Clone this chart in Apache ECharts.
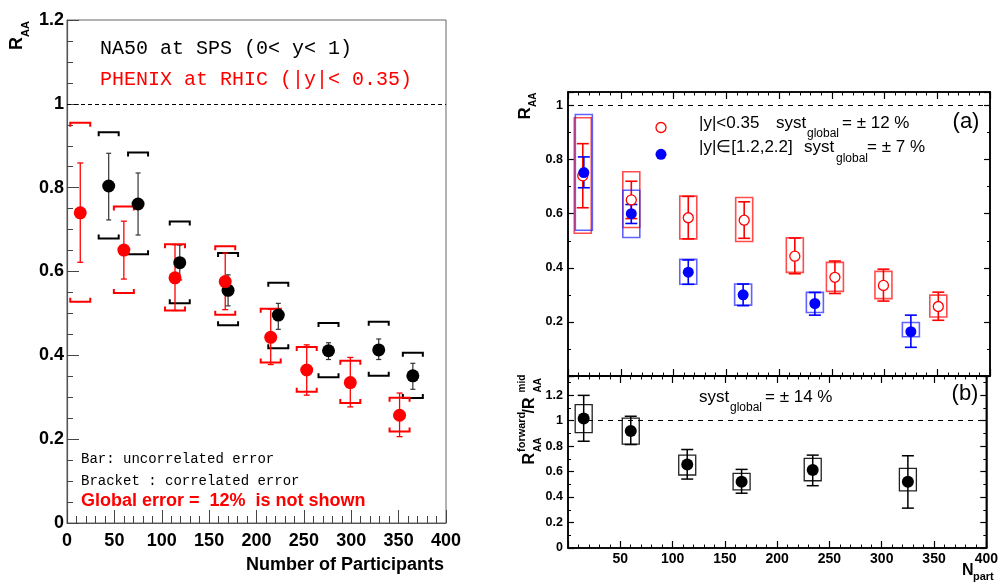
<!DOCTYPE html>
<html>
<head>
<meta charset="utf-8">
<script src="https://cdn.jsdelivr.net/npm/echarts@6/dist/echarts.min.js"></script>
<style>
html,body{margin:0;padding:0;background:#fff;}
#chart{width:1001px;height:582px;}
</style>
</head>
<body>
<div id="chart"></div>
<script>
// ---------- DATA ----------
// PHENIX mid-rapidity (|y|<0.35) — left panel and panel (a) open circles
const midNpart  = [14, 60, 114, 167, 215, 253, 299, 351];
const midRaa    = [0.740, 0.651, 0.585, 0.576, 0.443, 0.365, 0.335, 0.257];
const midStatLo = [0.622, 0.582, 0.507, 0.509, 0.378, 0.305, 0.277, 0.206];
const midStatHi = [0.859, 0.720, 0.664, 0.644, 0.510, 0.425, 0.395, 0.310];
const midSystLo = [0.528, 0.549, 0.507, 0.497, 0.383, 0.313, 0.286, 0.218];
const midSystHi = [0.955, 0.755, 0.665, 0.660, 0.511, 0.420, 0.387, 0.299];

// NA50 at SPS (0<y<1) — left panel black
const na50Npart  = [44, 75, 119, 170, 223, 276, 329, 365];
const na50Raa    = [0.804, 0.761, 0.621, 0.555, 0.496, 0.411, 0.413, 0.351];
const na50StatLo = [0.723, 0.687, 0.580, 0.518, 0.462, 0.390, 0.390, 0.319];
const na50StatHi = [0.882, 0.835, 0.663, 0.592, 0.524, 0.430, 0.439, 0.381];
const na50SystLo = [0.679, 0.641, 0.524, 0.472, 0.417, 0.348, 0.351, 0.298];
const na50SystHi = [0.932, 0.884, 0.719, 0.644, 0.573, 0.477, 0.480, 0.406];

// PHENIX forward (|y| in [1.2,2.2]) — panel (a) blue
const fwdNpart  = [15, 60, 114, 166, 234, 325];
const fwdRaa    = [0.752, 0.600, 0.384, 0.300, 0.268, 0.164];
const fwdStatLo = [0.696, 0.564, 0.339, 0.260, 0.225, 0.106];
const fwdStatHi = [0.810, 0.634, 0.429, 0.340, 0.309, 0.225];
const fwdSystLo = [0.539, 0.512, 0.339, 0.262, 0.235, 0.145];
const fwdSystHi = [0.967, 0.687, 0.431, 0.340, 0.309, 0.198];

// Ratio forward/mid — panel (b)
const ratNpart  = [15, 60, 114, 166, 234, 325];
const ratVal    = [1.016, 0.919, 0.656, 0.520, 0.612, 0.520];
const ratStatLo = [0.838, 0.812, 0.541, 0.430, 0.489, 0.313];
const ratStatHi = [1.198, 1.034, 0.773, 0.617, 0.729, 0.724];
const ratSystLo = [0.906, 0.815, 0.573, 0.456, 0.528, 0.448];
const ratSystHi = [1.125, 1.020, 0.729, 0.586, 0.703, 0.625];

// Axis ticks
const xTicks = {min: 0, max: 400, interval: 50};
const leftY  = {min: 0, max: 1.2, interval: 0.2};
const aY     = {min: 0, max: 1.05, interval: 0.2};
const bY     = {min: 0, max: 1.35, interval: 0.2};

// ---------- HELPERS ----------
function rows(xs, v, sl, sh, yl, yh) {
  return xs.map((x, i) => [x, v[i], sl[i], sh[i], yl[i], yh[i]]);
}
function pts(xs, v) { return xs.map((x, i) => [x, v[i]]); }

function errRender(opt) {
  return function (params, api) {
    const x = api.value(0);
    const cx = api.coord([x, api.value(1)])[0];
    const sLo = api.coord([x, api.value(2)])[1];
    const sHi = api.coord([x, api.value(3)])[1];
    const yLo = api.coord([x, api.value(4)])[1];
    const yHi = api.coord([x, api.value(5)])[1];
    const ch = [];
    const bs = {stroke: opt.boxColor, lineWidth: opt.boxW, fill: null, opacity: opt.boxOpacity || 1};
    if (opt.mode === 'bracket') {
      const w = opt.halfW, e = opt.endLen;
      ch.push({type: 'polyline', shape: {points: [[cx - w, yHi + e], [cx - w, yHi], [cx + w, yHi], [cx + w, yHi + e]]}, style: bs});
      ch.push({type: 'polyline', shape: {points: [[cx - w, yLo - e], [cx - w, yLo], [cx + w, yLo], [cx + w, yLo - e]]}, style: bs});
    } else {
      ch.push({type: 'rect', shape: {x: cx - opt.halfW, y: yHi, width: 2 * opt.halfW, height: yLo - yHi}, style: bs});
    }
    const ls = {stroke: opt.barColor, lineWidth: opt.barW};
    ch.push({type: 'line', shape: {x1: cx, y1: sLo, x2: cx, y2: sHi}, style: ls});
    ch.push({type: 'line', shape: {x1: cx - opt.capW, y1: sLo, x2: cx + opt.capW, y2: sLo}, style: ls});
    ch.push({type: 'line', shape: {x1: cx - opt.capW, y1: sHi, x2: cx + opt.capW, y2: sHi}, style: ls});
    return {type: 'group', children: ch};
  };
}

const SANS = '"Liberation Sans", Arial, Helvetica, sans-serif';
const MONO = '"Liberation Mono", "DejaVu Sans Mono", monospace';

function fmt1(v) { return String(+v.toFixed(2)); }

function dashLine(dash) {
  return {silent: true, symbol: ['none', 'none'], animation: false,
    label: {show: false}, lineStyle: {color: '#000', type: dash, width: 1},
    emphasis: {disabled: true}, data: [{yAxis: 1}]};
}

function rtX(gi, pos, labels, labelFmt) {
  return {
    gridIndex: gi, type: 'value', position: pos, min: xTicks.min, max: xTicks.max, interval: xTicks.interval,
    axisLine: {show: true, onZero: false, lineStyle: {color: '#000', width: 1.5}},
    axisTick: {show: true, inside: true, length: 7, lineStyle: {color: '#000', width: 1.2}},
    minorTick: {show: true, splitNumber: 5, length: 3.5, lineStyle: {color: '#000', width: 1}},
    splitLine: {show: false},
    axisLabel: labels ? {show: true, color: '#000', fontFamily: SANS, fontWeight: 'bold', fontSize: 14, margin: 4, formatter: labelFmt} : {show: false}
  };
}
function rtY(gi, pos, rng, labels, labelFmt) {
  return {
    gridIndex: gi, type: 'value', position: pos, min: rng.min, max: rng.max, interval: rng.interval,
    axisLine: {show: true, onZero: false, lineStyle: {color: '#000', width: 1.5}},
    axisTick: {show: true, inside: true, length: 6, lineStyle: {color: '#000', width: 1.2}},
    minorTick: {show: true, splitNumber: 2, length: 3, lineStyle: {color: '#000', width: 1}},
    splitLine: {show: false},
    axisLabel: labels ? {show: true, color: '#000', fontFamily: SANS, fontWeight: 'bold', fontSize: 12.5, margin: 5, formatter: labelFmt} : {show: false}
  };
}

function txt(x, y, text, size, opt) {
  opt = opt || {};
  return {
    type: 'text', x: x, y: y, silent: true,
    style: {
      text: text, fill: opt.color || '#000',
      font: (opt.weight || 'normal') + ' ' + size + 'px ' + (opt.family || SANS),
      align: opt.align || 'left', textAlign: opt.align || 'left',
      verticalAlign: 'middle', textVerticalAlign: 'middle'
    }
  };
}

// ---------- CHART ----------
const chart = echarts.init(document.getElementById('chart'), null, {renderer: 'canvas'});

const option = {
  animation: false,
  backgroundColor: '#fff',
  grid: [
    {left: 67, top: 20, width: 379, height: 503, show: true, borderColor: '#666', borderWidth: 1},
    {left: 568, top: 92, width: 422, height: 284, show: true, borderColor: '#000', borderWidth: 1.5},
    {left: 568, top: 376, width: 422, height: 172, show: true, borderColor: '#000', borderWidth: 1.5}
  ],
  xAxis: [
    {
      gridIndex: 0, type: 'value', position: 'bottom', min: xTicks.min, max: xTicks.max, interval: xTicks.interval,
      axisLine: {show: true, onZero: false, lineStyle: {color: '#555', width: 1.2}},
      axisTick: {show: true, inside: true, length: 13, lineStyle: {color: '#444', width: 1}},
      minorTick: {show: true, splitNumber: 5, length: 7, lineStyle: {color: '#444', width: 1}},
      splitLine: {show: false},
      axisLabel: {show: true, color: '#000', fontFamily: SANS, fontWeight: 'bold', fontSize: 18, margin: 9}
    },
    rtX(1, 'bottom', false),
    rtX(1, 'top', false),
    rtX(2, 'bottom', true, v => (v === 0 ? '' : String(v))),
    rtX(2, 'top', false)
  ],
  yAxis: [
    {
      gridIndex: 0, type: 'value', position: 'left', min: leftY.min, max: leftY.max, interval: leftY.interval,
      axisLine: {show: true, onZero: false, lineStyle: {color: '#555', width: 1.2}},
      axisTick: {show: true, inside: true, length: 12, lineStyle: {color: '#444', width: 1}},
      minorTick: {show: true, splitNumber: 4, length: 6, lineStyle: {color: '#444', width: 1}},
      splitLine: {show: false},
      axisLabel: {show: true, color: '#000', fontFamily: SANS, fontWeight: 'bold', fontSize: 18, margin: 3, formatter: fmt1}
    },
    rtY(1, 'left', aY, true, v => (v < 0.1 || v > 1.01 ? '' : fmt1(v))),
    rtY(1, 'right', aY, false),
    rtY(2, 'left', bY, true, v => (v > 1.21 ? '' : fmt1(v))),
    rtY(2, 'right', bY, false)
  ],
  series: [
    // ----- Left panel -----
    {
      type: 'custom', xAxisIndex: 0, yAxisIndex: 0, clip: false, z: 2,
      renderItem: errRender({mode: 'bracket', halfW: 10, endLen: 4, boxColor: '#000', boxW: 2, barColor: '#333', barW: 1.2, capW: 2.5}),
      encode: {x: 0, y: 1},
      data: rows(na50Npart, na50Raa, na50StatLo, na50StatHi, na50SystLo, na50SystHi)
    },
    {
      type: 'scatter', xAxisIndex: 0, yAxisIndex: 0, z: 2, symbol: 'circle', symbolSize: 13,
      itemStyle: {color: '#000', opacity: 1}, data: pts(na50Npart, na50Raa),
      markLine: dashLine([4, 3])
    },
    {
      type: 'custom', xAxisIndex: 0, yAxisIndex: 0, clip: false, z: 2,
      renderItem: errRender({mode: 'bracket', halfW: 10, endLen: 4, boxColor: '#ff0000', boxW: 2, barColor: '#ff0000', barW: 1.3, capW: 3}),
      encode: {x: 0, y: 1},
      data: rows(midNpart, midRaa, midStatLo, midStatHi, midSystLo, midSystHi)
    },
    {
      type: 'scatter', xAxisIndex: 0, yAxisIndex: 0, z: 2, symbol: 'circle', symbolSize: 13,
      itemStyle: {color: '#ff0000', opacity: 1}, data: pts(midNpart, midRaa)
    },
    // ----- Panel (a) -----
    {
      type: 'custom', xAxisIndex: 1, yAxisIndex: 1, clip: false, z: 2,
      renderItem: errRender({mode: 'box', halfW: 8.5, boxColor: '#ff2020', boxW: 1.6, boxOpacity: 0.8, barColor: '#ff0000', barW: 1.6, capW: 6}),
      encode: {x: 0, y: 1},
      data: rows(midNpart, midRaa, midStatLo, midStatHi, midSystLo, midSystHi)
    },
    {
      type: 'scatter', xAxisIndex: 1, yAxisIndex: 1, z: 2, symbol: 'circle', symbolSize: 10,
      itemStyle: {color: '#fff', borderColor: '#ff0000', borderWidth: 1.3, opacity: 1}, data: pts(midNpart, midRaa),
      markLine: dashLine([5, 5])
    },
    {
      type: 'custom', xAxisIndex: 1, yAxisIndex: 1, clip: false, z: 2,
      renderItem: errRender({mode: 'box', halfW: 8.5, boxColor: '#2020ff', boxW: 1.6, boxOpacity: 0.7, barColor: '#0000ff', barW: 1.6, capW: 6}),
      encode: {x: 0, y: 1},
      data: rows(fwdNpart, fwdRaa, fwdStatLo, fwdStatHi, fwdSystLo, fwdSystHi)
    },
    {
      type: 'scatter', xAxisIndex: 1, yAxisIndex: 1, z: 2, symbol: 'circle', symbolSize: 11,
      itemStyle: {color: '#0000ff', opacity: 1}, data: pts(fwdNpart, fwdRaa)
    },
    // ----- Panel (b) -----
    {
      type: 'custom', xAxisIndex: 3, yAxisIndex: 3, clip: false, z: 2,
      renderItem: errRender({mode: 'box', halfW: 8.5, boxColor: '#222', boxW: 1.3, barColor: '#000', barW: 1.5, capW: 6}),
      encode: {x: 0, y: 1},
      data: rows(ratNpart, ratVal, ratStatLo, ratStatHi, ratSystLo, ratSystHi)
    },
    {
      type: 'scatter', xAxisIndex: 3, yAxisIndex: 3, z: 2, symbol: 'circle', symbolSize: 12,
      itemStyle: {color: '#000', opacity: 1}, data: pts(ratNpart, ratVal),
      markLine: dashLine([5, 5])
    }
  ],
  graphic: [
    // left panel texts
    txt(100, 49, 'NA50 at SPS (0< y< 1)', 20, {family: MONO}),
    txt(100, 80, 'PHENIX at RHIC (|y|< 0.35)', 20, {family: MONO, color: '#ff0000'}),
    txt(81, 459, 'Bar: uncorrelated error', 14, {family: MONO}),
    txt(81, 481, 'Bracket : correlated error', 14, {family: MONO}),
    txt(81, 501, 'Global error =  12%  is not shown', 18, {weight: 'bold', color: '#ff0000'}),
    txt(444, 565, 'Number of Participants', 18, {weight: 'bold', align: 'right'}),
    {
      type: 'group', x: 17, y: 50, rotation: Math.PI / 2,
      children: [
        txt(0, 0, 'R', 18, {weight: 'bold'}),
        txt(13, 9, 'AA', 11, {weight: 'bold'})
      ]
    },
    // panel (a) texts
    {type: 'circle', shape: {cx: 661, cy: 127.5, r: 5}, style: {fill: '#fff', stroke: '#ff0000', lineWidth: 1.3}, silent: true},
    {type: 'circle', shape: {cx: 661, cy: 154.3, r: 5.5}, style: {fill: '#0000ff'}, silent: true},
    txt(699, 123, '|y|<0.35', 17),
    txt(776, 123, 'syst', 17),
    txt(807, 134, 'global', 12),
    txt(842, 123, '= ± 12 %', 17),
    txt(699, 147.5, '|y|∈[1.2,2.2]', 17),
    txt(804, 147.5, 'syst', 17),
    txt(836, 159, 'global', 12),
    txt(867, 147.5, '= ± 7 %', 17),
    txt(966, 122, '(a)', 22, {align: 'center'}),
    {
      type: 'group', x: 525, y: 119.5, rotation: Math.PI / 2,
      children: [
        txt(0, 0, 'R', 17, {weight: 'bold'}),
        txt(12.5, 8, 'AA', 10, {weight: 'bold'})
      ]
    },
    // panel (b) texts
    txt(699, 397, 'syst', 17),
    txt(730, 407.5, 'global', 12),
    txt(765, 397, '= ± 14 %', 17),
    txt(965, 394, '(b)', 22, {align: 'center'}),
    {
      type: 'group', x: 530, y: 464.5, rotation: Math.PI / 2,
      children: [
        txt(0, 0, 'R', 16, {weight: 'bold'}),
        txt(12.5, 8, 'AA', 10, {weight: 'bold'}),
        txt(12.5, -8, 'forward', 11, {weight: 'bold'}),
        txt(51, 0, '/R', 16, {weight: 'bold'}),
        txt(72, 8, 'AA', 10, {weight: 'bold'}),
        txt(72, -8, 'mid', 10, {weight: 'bold'})
      ]
    },
    txt(962, 571, 'N', 16, {weight: 'bold'}),
    txt(973, 577, 'part', 11, {weight: 'bold'})
  ]
};

chart.setOption(option);
</script>
</body>
</html>
